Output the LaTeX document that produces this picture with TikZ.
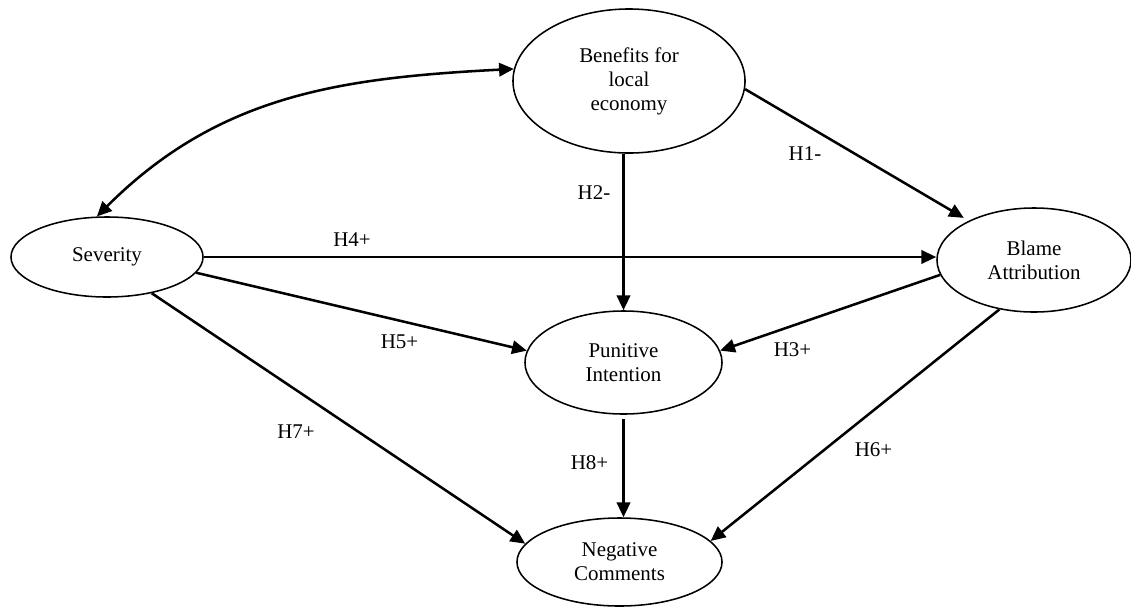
\documentclass[tikz,border=0pt]{standalone}
\usepackage{fontspec}
\setmainfont{Liberation Serif}
\usetikzlibrary{arrows.meta,shapes.geometric}

\begin{document}
\begin{tikzpicture}[x=0.025cm, y=-0.025cm,
    font=\fontsize{14.9pt}{17.1pt}\selectfont,
    >={Triangle[length=10.5pt,width=9.5pt]},
    var/.style={draw, ellipse, line width=1.1pt, inner sep=0pt, align=center},
    arr/.style={->, line width=1.8pt},
    hyp/.style={inner sep=0pt}]
  \useasboundingbox (0,0) rectangle (1131,607);
            \node[var, minimum width=5.8cm, minimum height=3.6cm] (ben) at (629,81) {Benefits for\\local\\economy};
            \node[var, minimum width=4.8cm, minimum height=2cm] (sev) at (107,257) {Severity};
            \node[var, minimum width=4.85cm, minimum height=2.6cm] (bla) at (1034,260) {Blame\\Attribution};
            \node[var, minimum width=4.925cm, minimum height=2.575cm] (pun) at (623.5,362.5) {Punitive\\Intention};
            \node[var, minimum width=5.125cm, minimum height=2.2cm] (neg) at (619.5,562) {Negative\\Comments};

            \draw[arr, <->] (ben.174.5) to[out=183, in=45] (sev.104);
            \draw[arr, shorten >=4pt] (ben.-4) -- (bla.149);
            \draw[arr] (pun.north |- ben.south) -- (pun.north);
            \draw[arr] (bla.189) -- (pun.7);
            \draw[arr] (sev.east) -- (bla.west |- sev.east);
            \draw[arr] (sev.-10) -- (pun.173);
            \draw[arr] (bla.235) -- (neg.13);
            \draw[arr] (sev.-39) -- (neg.169);
            \draw[arr, shorten <=3pt] (pun.south) -- (pun.south |- neg.north);

            \node[hyp] (h1) at (805,154) {H1-};
            \node[hyp] (h2) at (594,193) {H2-};
            \node[hyp] (h3) at (792.5,350) {H3+};
            \node[hyp] (h4) at (352,240) {H4+};
            \node[hyp] (h5) at (399.5,342) {H5+};
            \node[hyp] (h6) at (873.5,449.5) {H6+};
            \node[hyp] (h7) at (296,432) {H7+};
            \node[hyp] (h8) at (589.5,463) {H8+};
        \end{tikzpicture}
\end{document}
